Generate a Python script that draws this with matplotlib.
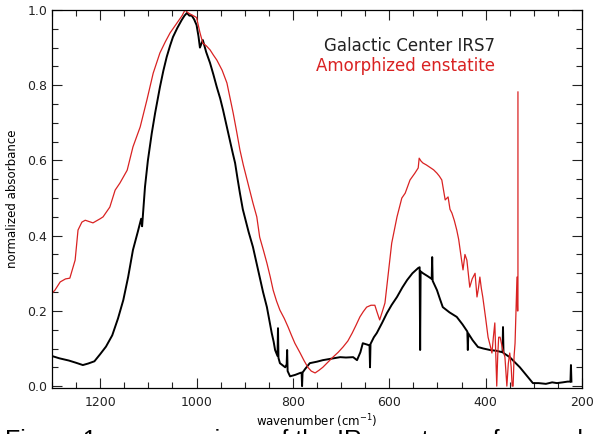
import matplotlib
matplotlib.use("Agg")
import matplotlib.pyplot as plt
from matplotlib.ticker import MultipleLocator

# Galactic Center IRS7 (black)
irs7_wn = [1300, 1285, 1265, 1250, 1236, 1225, 1212, 1200, 1188, 1175, 1163, 1152,
           1142, 1132, 1122, 1115, 1113, 1107, 1101, 1093, 1086, 1076, 1069, 1062, 1055, 1049,
           1040, 1031, 1025, 1020, 1015, 1010, 1005, 1000, 996, 993, 987, 980, 972, 965,
           958, 951, 945, 938, 931, 925, 920, 915, 910, 904, 900, 892, 883, 876, 869,
           862, 854, 849, 844, 840, 837, 832, 831, 830, 827, 820, 816, 813, 812, 811,
           806, 795, 785, 782, 781, 780, 775, 765, 750, 738, 720, 702, 690, 675, 667,
           660, 655, 645, 641, 640, 639, 632, 626, 615, 605, 595, 584, 573, 563, 552,
           545, 540, 537, 536, 535, 530, 520, 512, 511, 510, 501, 495, 489, 475, 460,
           448, 438, 437, 436, 427, 416, 405, 391, 378, 365, 364, 363, 350, 340, 329,
           315, 302, 290, 275, 262, 252, 240, 230, 224, 223, 222]
irs7_ab = [0.080, 0.074, 0.068, 0.062, 0.056, 0.060, 0.066, 0.085, 0.105, 0.135, 0.180, 0.229,
           0.290, 0.362, 0.410, 0.445, 0.425, 0.530, 0.600, 0.672, 0.726, 0.795, 0.838, 0.875, 0.905, 0.928,
           0.952, 0.973, 0.985, 0.992, 0.985, 0.985, 0.975, 0.960, 0.930, 0.900, 0.920, 0.888, 0.859, 0.828,
           0.795, 0.765, 0.734, 0.694, 0.654, 0.620, 0.593, 0.552, 0.513, 0.470, 0.450, 0.410, 0.370, 0.330, 0.290,
           0.250, 0.210, 0.175, 0.141, 0.118, 0.096, 0.080, 0.154, 0.075, 0.061, 0.054, 0.050, 0.058, 0.096, 0.040,
           0.026, 0.030, 0.035, 0.036, 0.000, 0.036, 0.045, 0.061, 0.065, 0.069, 0.073, 0.077, 0.076, 0.077, 0.069,
           0.090, 0.114, 0.110, 0.108, 0.050, 0.112, 0.130, 0.141, 0.168, 0.194, 0.216, 0.237, 0.262, 0.282, 0.300,
           0.308, 0.314, 0.316, 0.096, 0.305, 0.300, 0.292, 0.285, 0.343, 0.280, 0.255, 0.232, 0.210, 0.196, 0.184,
           0.164, 0.145, 0.096, 0.140, 0.122, 0.104, 0.100, 0.096, 0.094, 0.090, 0.157, 0.088, 0.077, 0.064, 0.050,
           0.028, 0.008, 0.008, 0.006, 0.010, 0.008, 0.010, 0.012, 0.012, 0.056, 0.012]

# Amorphized enstatite (red)
enst_wn = [1300, 1294, 1283, 1272, 1263, 1252, 1246, 1238, 1231, 1215, 1200, 1194, 1180,
           1169, 1159, 1144, 1132, 1117, 1103, 1090, 1076, 1065, 1055, 1041, 1030, 1024,
           1017, 1010, 1000, 993, 987, 980, 972, 965, 958, 947, 937, 924, 917, 910, 903,
           895, 883, 875, 869, 861, 854, 847, 841, 834, 827, 818, 810, 803, 796, 785,
           777, 769, 762, 754, 746, 738, 727, 717, 706, 696, 686, 677, 669, 661, 654,
           647, 638, 630, 625, 620, 614, 609, 603, 595, 584, 574, 567, 557, 547, 540,
           538, 534, 530, 523, 516, 508, 501, 496, 491, 484, 478, 474, 470, 465, 460,
           456, 453, 450, 447, 443, 439, 436, 433, 428, 422, 420, 418, 415, 412, 409,
           406, 400, 395, 391, 387, 384, 381, 379, 377, 375, 373, 370, 365, 360, 358,
           356, 353, 350, 347, 345, 343, 341, 339, 337, 335, 334, 333, 333, 333]
enst_ab = [0.247, 0.255, 0.277, 0.285, 0.287, 0.335, 0.415, 0.436, 0.441, 0.434, 0.445, 0.450, 0.476,
           0.521, 0.540, 0.574, 0.636, 0.689, 0.761, 0.832, 0.886, 0.915, 0.939, 0.965, 0.985, 1.000,
           0.992, 0.987, 0.980, 0.940, 0.912, 0.905, 0.894, 0.880, 0.867, 0.840, 0.806, 0.726, 0.678, 0.628, 0.588,
           0.548, 0.487, 0.450, 0.396, 0.360, 0.327, 0.290, 0.255, 0.226, 0.202, 0.180, 0.157, 0.135, 0.114, 0.088,
           0.068, 0.050, 0.040, 0.035, 0.042, 0.050, 0.064, 0.077, 0.090, 0.104, 0.120, 0.141, 0.162, 0.184, 0.198,
           0.210, 0.215, 0.215, 0.195, 0.176, 0.200, 0.221, 0.290, 0.380, 0.450, 0.500, 0.513, 0.548, 0.566, 0.580,
           0.606, 0.598, 0.593, 0.588, 0.582, 0.575, 0.566, 0.558, 0.548, 0.495, 0.503, 0.470, 0.460, 0.440, 0.415,
           0.390, 0.362, 0.335, 0.309, 0.350, 0.335, 0.300, 0.263, 0.285, 0.300, 0.270, 0.237, 0.260, 0.290, 0.260,
           0.237, 0.180, 0.130, 0.110, 0.088, 0.130, 0.168, 0.080, 0.000, 0.080, 0.130, 0.130, 0.100, 0.077, 0.040,
           0.000, 0.060, 0.088, 0.050, 0.000, 0.000, 0.080, 0.114, 0.200, 0.290, 0.200, 0.200, 0.600, 0.782]

x_ticks = [1200, 1000, 800, 600, 400, 200]
y_ticks = [0.0, 0.2, 0.4, 0.6, 0.8, 1.0]

fig = plt.figure(figsize=(5.93, 4.34), dpi=100)
ax = fig.add_axes([0.0877, 0.106, 0.8938, 0.871])

ax.plot(irs7_wn, irs7_ab, color="black", lw=1.4)
ax.plot(enst_wn, enst_ab, color="#d92222", lw=0.9)

ax.set_xlim(1300, 200)
ax.set_ylim(-0.005, 1.0)
ax.set_xticks(x_ticks)
ax.set_yticks(y_ticks)
ax.set_yticklabels([f"{v:.1f}" for v in y_ticks])
ax.xaxis.set_minor_locator(MultipleLocator(50))
ax.yaxis.set_minor_locator(MultipleLocator(0.05))
ax.tick_params(which="both", direction="in", top=True, right=True, labelsize=9,
               colors="#222222", width=0.8)
ax.tick_params(which="major", length=7)
ax.tick_params(which="minor", length=4)
ax.tick_params(axis="x", pad=6)
for sp in ax.spines.values():
    sp.set_linewidth(0.9)

ax.set_xlabel("wavenumber (cm$^{-1}$)", fontsize=8.5, labelpad=2)
ax.set_ylabel("normalized absorbance", fontsize=8.5, labelpad=6)

ax.text(0.835, 0.905, "Galactic Center IRS7", transform=ax.transAxes, ha="right",
        va="center", fontsize=12, color="#222222")
ax.text(0.835, 0.852, "Amorphized enstatite", transform=ax.transAxes, ha="right",
        va="center", fontsize=12, color="#d92222")

# caption is cropped at the bottom edge in the reference as well
fig.text(0.008, 0.012, "Figure 1: a comparison of the IR spectrum of amorphized",
         ha="left", va="top", fontsize=18, family="Liberation Sans")

fig.savefig("out.png", dpi=100)
